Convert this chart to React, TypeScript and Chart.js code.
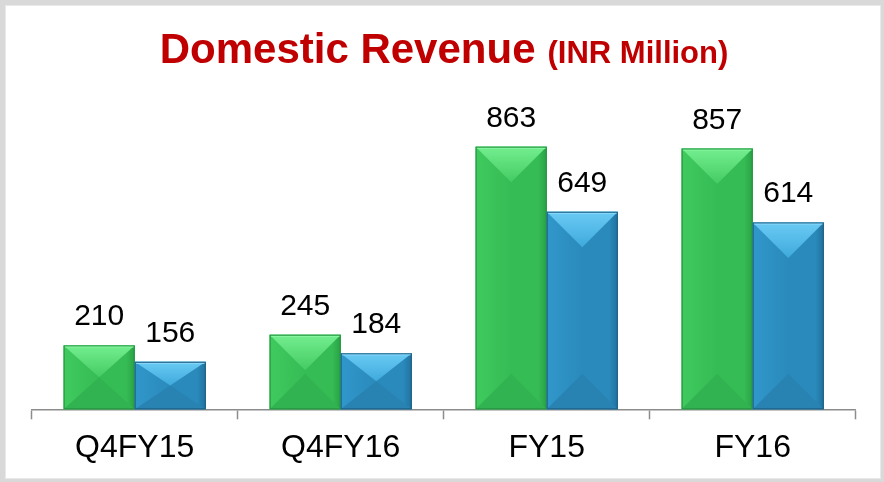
import React, { useEffect, useRef } from 'react';
import { Chart, registerables } from 'chart.js';

Chart.register(...registerables);

// ---- data ----
const categories = ['Q4FY15', 'Q4FY16', 'FY15', 'FY16'];
const seriesGreen = [210, 245, 863, 857];
const seriesBlue = [156, 184, 649, 614];
const titleMain = 'Domestic Revenue';
const titleSub = '(INR Million)';
const yMin = 0;
const yMax = 1000;

const FONT = '"Liberation Sans", Arial, Helvetica, sans-serif';

const palettes = [
  { base: '#36bf55', light: '#3fca5e', mid: '#36bc55', dark: '#29a246', topA: '#74ee90', topB: '#44cb62', bottom: '#32b351', edge: '#24923f', strip: '#8cf8a5' },
  { base: '#2a8bbd', light: '#3197cb', mid: '#2a8abb', dark: '#21719d', topA: '#6acbf4', topB: '#3fa9dc', bottom: '#2883b3', edge: '#1c5f85', strip: '#8edafa' },
];

const bevelPlugin = {
  id: 'bevelBars',
  afterDatasetsDraw(chart: any) {
    const ctx = chart.ctx;
    chart.data.datasets.forEach((_ds: any, di: number) => {
      const meta = chart.getDatasetMeta(di);
      const p = palettes[di];
      meta.data.forEach((el: any) => {
        const { x, y, base, width } = el.getProps(['x', 'y', 'base', 'width'], true);
        const L = x - width / 2;
        const R = x + width / 2;
        const T = Math.min(y, base);
        const B = Math.max(y, base);
        const H = B - T;
        const d = Math.min(width / 2, H / 2);
        ctx.save();
        const g = ctx.createLinearGradient(L, 0, R, 0);
        g.addColorStop(0, p.light);
        g.addColorStop(0.5, p.mid);
        g.addColorStop(0.88, p.mid);
        g.addColorStop(1, p.dark);
        ctx.fillStyle = g;
        ctx.fillRect(L, T, width, H);
        ctx.beginPath();
        ctx.moveTo(L, B);
        ctx.lineTo(R, B);
        ctx.lineTo(x, B - d);
        ctx.closePath();
        ctx.fillStyle = p.bottom;
        ctx.fill();
        const tg = ctx.createLinearGradient(0, T, 0, T + d);
        tg.addColorStop(0, p.topA);
        tg.addColorStop(1, p.topB);
        ctx.beginPath();
        ctx.moveTo(L, T);
        ctx.lineTo(R, T);
        ctx.lineTo(x, T + d);
        ctx.closePath();
        ctx.fillStyle = tg;
        ctx.fill();
        ctx.fillStyle = p.strip;
        ctx.fillRect(L + 1, T, width - 2, 2);
        ctx.strokeStyle = p.edge;
        ctx.lineWidth = 1;
        ctx.strokeRect(L + 0.5, T + 0.5, width - 1, H - 1);
        ctx.restore();
      });
    });
  },
};

const labelPlugin = {
  id: 'valueLabels',
  afterDatasetsDraw(chart: any) {
    const ctx = chart.ctx;
    ctx.save();
    ctx.font = `30px ${FONT}`;
    ctx.fillStyle = '#000000';
    ctx.textAlign = 'center';
    ctx.textBaseline = 'alphabetic';
    chart.data.datasets.forEach((ds: any, di: number) => {
      const meta = chart.getDatasetMeta(di);
      meta.data.forEach((el: any, i: number) => {
        const { x, y } = el.getProps(['x', 'y'], true);
        ctx.fillText(String(ds.data[i]), x, y - 20);
      });
    });
    ctx.restore();
  },
};

const titlePlugin = {
  id: 'mixedTitle',
  afterDraw(chart: any) {
    const ctx = chart.ctx;
    ctx.save();
    ctx.fillStyle = '#c00000';
    ctx.textBaseline = 'alphabetic';
    ctx.textAlign = 'left';
    const f1 = `bold 42px ${FONT}`;
    const f2 = `bold 31px ${FONT}`;
    ctx.font = f1;
    const w1 = ctx.measureText(titleMain).width;
    ctx.font = f2;
    const w2 = ctx.measureText(titleSub).width;
    const gap = 12;
    const total = w1 + gap + w2;
    const cx = 438;
    const x0 = cx - total / 2;
    const baseY = 56.7;
    ctx.font = f1;
    ctx.fillText(titleMain, x0, baseY);
    ctx.font = f2;
    ctx.fillText(titleSub, x0 + w1 + gap, baseY);
    ctx.restore();
  },
};

export default function App() {
  const ref = useRef<HTMLCanvasElement | null>(null);

  useEffect(() => {
    if (!ref.current) return;
    const chart = new Chart(ref.current, {
      type: 'bar',
      data: {
        labels: categories,
        datasets: [
          { label: 'Green', data: seriesGreen, backgroundColor: palettes[0].base, borderWidth: 0 },
          { label: 'Blue', data: seriesBlue, backgroundColor: palettes[1].base, borderWidth: 0 },
        ],
      },
      options: {
        responsive: false,
        animation: false,
        layout: { padding: { left: 25.7, right: 24.3, top: 99, bottom: 0.3 } },
        datasets: { bar: { categoryPercentage: 0.69, barPercentage: 1 } } as any,
        plugins: {
          legend: { display: false },
          tooltip: { enabled: false },
          title: { display: false },
        },
        scales: {
          x: {
            grid: {
              display: true,
              drawOnChartArea: false,
              drawTicks: true,
              tickLength: 10,
              tickColor: '#8c8c8c',
              tickWidth: 1.5,
              offset: true,
            },
            border: { display: true, color: '#8c8c8c', width: 1.5 },
            ticks: { color: '#000000', font: { family: FONT, size: 32 }, padding: 10 },
          },
          y: { display: false, min: yMin, max: yMax },
        },
      },
      plugins: [bevelPlugin, labelPlugin, titlePlugin],
    });
    return () => chart.destroy();
  }, []);

  return (
    <div style={{ position: 'fixed', left: 0, top: 0, width: 884, height: 482, background: '#d9d9d9' }}>
      <div
        style={{
          position: 'absolute',
          left: 5,
          top: 5,
          width: 874,
          height: 472,
          border: '1px solid #e9e9e9',
          background: '#ffffff',
        }}
      >
        <canvas ref={ref} width={874} height={472} style={{ display: 'block' }} />
      </div>
    </div>
  );
}
